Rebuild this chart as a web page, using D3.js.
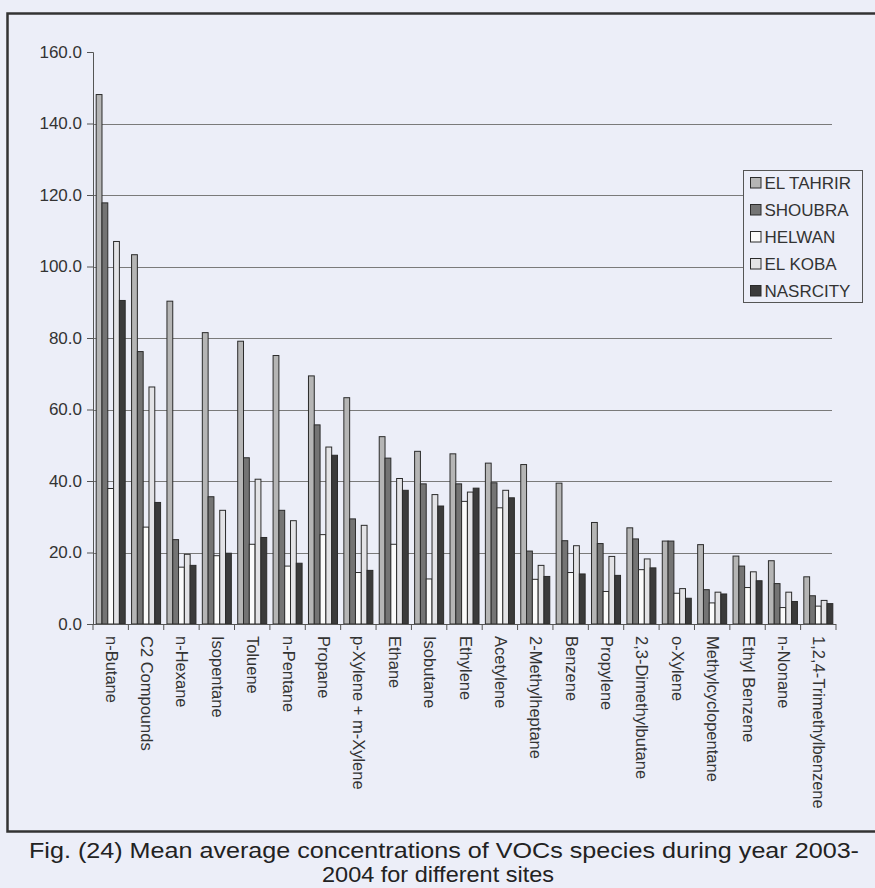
<!DOCTYPE html>
<html>
<head>
<meta charset="utf-8">
<script src="https://cdn.jsdelivr.net/npm/d3@7"></script>
<style>
  body { margin: 0; background: #eceef8; }
  svg { display: block; font-family: "Liberation Sans", Arial, sans-serif; }
</style>
</head>
<body>
<svg width="875" height="888"></svg>
<script>
// Categories (VOC species) and site series
const categories = ["n-Butane", "C2 Compounds", "n-Hexane", "Isopentane", "Toluene", "n-Pentane",
  "Propane", "p-Xylene  + m-Xylene", "Ethane", "Isobutane", "Ethylene", "Acetylene",
  "2-Methylheptane", "Benzene", "Propylene", "2,3-Dimethylbutane", "o-Xylene",
  "Methylcyclopentane", "Ethyl Benzene", "n-Nonane", "1,2,4-Trimethylbenzene"];

const sites = ["EL TAHRIR", "SHOUBRA", "HELWAN", "EL KOBA", "NASRCITY"];

const elTahrir = [148.1, 103.3, 90.3, 81.5, 79.1, 75.1, 69.4, 63.3, 52.4, 48.3, 47.6, 45.0, 44.6, 39.4, 28.4, 26.9, 23.2, 22.2, 19.0, 17.7, 13.2];
const shoubra  = [117.8, 76.2, 23.6, 35.6, 46.5, 31.8, 55.7, 29.4, 46.4, 39.2, 39.2, 39.5, 20.4, 23.3, 22.5, 23.8, 23.2, 9.6, 16.2, 11.3, 7.9];
const helwan   = [37.9, 27.1, 15.9, 19.1, 22.3, 16.2, 25.0, 14.4, 22.3, 12.6, 34.3, 32.5, 12.5, 14.4, 9.1, 15.2, 8.6, 5.9, 10.2, 4.6, 5.0];
const elKoba   = [107.0, 66.3, 19.5, 31.8, 40.5, 28.9, 49.5, 27.6, 40.7, 36.2, 36.9, 37.4, 16.4, 21.9, 18.9, 18.2, 9.9, 8.9, 14.6, 8.9, 6.6];
const nasrCity = [90.5, 34.0, 16.4, 19.8, 24.2, 17.0, 47.2, 15.0, 37.4, 33.0, 38.0, 35.3, 13.3, 14.0, 13.6, 15.7, 7.2, 8.4, 12.1, 6.3, 5.7];

const yTicks = [0, 20, 40, 60, 80, 100, 120, 140, 160];

const seriesValues = [elTahrir, shoubra, helwan, elKoba, nasrCity];
const fills = ["#b5b5b5", "#747474", "#fbfbfb", "#e3e3e6", "#3b3b3b"];

const svg = d3.select("svg");

// Outer frame
svg.append("rect")
    .attr("x", 7.5).attr("y", 13.5)
    .attr("width", 900).attr("height", 818)
    .attr("fill", "none")
    .attr("stroke", "#333")
    .attr("stroke-width", 2.5);

const plotLeft = 93, plotRight = 836, plotTop = 52, plotBottom = 624;

const x0 = d3.scaleBand()
    .domain(categories)
    .range([plotLeft, plotRight])
    .paddingInner(0.18)
    .paddingOuter(0.09);

const x1 = d3.scaleBand()
    .domain(sites)
    .range([0, x0.bandwidth()]);

const y = d3.scaleLinear()
    .domain([0, 160])
    .range([plotBottom, plotTop]);

// Gridlines (none at the top value)
svg.append("g")
    .selectAll("line")
    .data(yTicks.filter(d => d > 0 && d < 160))
    .enter()
    .append("line")
    .attr("x1", plotLeft).attr("x2", plotRight - 4)
    .attr("y1", d => Math.round(y(d)) + 0.5)
    .attr("y2", d => Math.round(y(d)) + 0.5)
    .attr("stroke", "#7a7a7a")
    .attr("stroke-width", 1);

// Bars
const groups = svg.append("g")
    .selectAll("g")
    .data(categories)
    .enter()
    .append("g")
    .attr("transform", d => `translate(${x0(d)},0)`);

groups.selectAll("rect")
    .data((d, i) => sites.map((s, k) => ({ site: s, k: k, value: seriesValues[k][i] })))
    .enter()
    .append("rect")
    .attr("x", d => x1(d.site))
    .attr("width", x1.bandwidth())
    .attr("y", d => y(d.value))
    .attr("height", d => plotBottom - y(d.value))
    .attr("fill", d => fills[d.k])
    .attr("stroke", "#2b2b2b")
    .attr("stroke-width", 1);

// Y axis
const yAxis = svg.append("g")
    .attr("transform", `translate(${plotLeft},0)`)
    .call(d3.axisLeft(y).tickValues(yTicks).tickFormat(d3.format(".1f")).tickSize(6).tickPadding(5));
yAxis.select(".domain").attr("stroke", "#555");
yAxis.selectAll(".tick line").attr("stroke", "#555");
yAxis.selectAll("text")
    .style("font-size", "17px")
    .style("font-family", "Liberation Sans, Arial, sans-serif")
    .attr("fill", "#333");

// X axis: line and ticks at category boundaries
const xAxis = svg.append("g");
xAxis.append("line")
    .attr("x1", plotLeft).attr("x2", plotRight)
    .attr("y1", plotBottom + 0.5).attr("y2", plotBottom + 0.5)
    .attr("stroke", "#555");
xAxis.selectAll(".xt")
    .data(d3.range(categories.length + 1))
    .enter()
    .append("line")
    .attr("class", "xt")
    .attr("x1", i => plotLeft + i * x0.step())
    .attr("x2", i => plotLeft + i * x0.step())
    .attr("y1", plotBottom)
    .attr("y2", plotBottom + 6)
    .attr("stroke", "#555");

xAxis.selectAll(".xl")
    .data(categories)
    .enter()
    .append("text")
    .attr("class", "xl")
    .attr("transform", d => `translate(${x0(d) + x0.bandwidth() / 2 - 5},${plotBottom + 12}) rotate(90)`)
    .attr("text-anchor", "start")
    .style("font-size", "16.5px")
    .attr("fill", "#333")
    .text(d => d);

// Legend
const legend = svg.append("g")
    .attr("transform", "translate(743.5,170.5)");
legend.append("rect")
    .attr("width", 119).attr("height", 132)
    .attr("fill", "#eceef8")
    .attr("stroke", "#555");

sites.forEach((s, i) => {
    legend.append("rect")
        .attr("x", 7).attr("y", 7 + i * 27)
        .attr("width", 10.5).attr("height", 10.5)
        .attr("fill", fills[i])
        .attr("stroke", "#2b2b2b");
    legend.append("text")
        .attr("x", 21).attr("y", 18.5 + i * 27)
        .style("font-size", "17px")
        .attr("fill", "#333")
        .text(s);
});

// Caption
svg.append("text")
    .attr("x", 444).attr("y", 858)
    .attr("text-anchor", "middle")
    .attr("textLength", 830)
    .attr("lengthAdjust", "spacingAndGlyphs")
    .style("font-size", "22.5px")
    .attr("fill", "#222")
    .text("Fig. (24) Mean average concentrations of VOCs species during year 2003-");
svg.append("text")
    .attr("x", 438).attr("y", 882)
    .attr("text-anchor", "middle")
    .attr("textLength", 232)
    .attr("lengthAdjust", "spacingAndGlyphs")
    .style("font-size", "22.5px")
    .attr("fill", "#222")
    .text("2004 for different sites");
</script>
</body>
</html>
